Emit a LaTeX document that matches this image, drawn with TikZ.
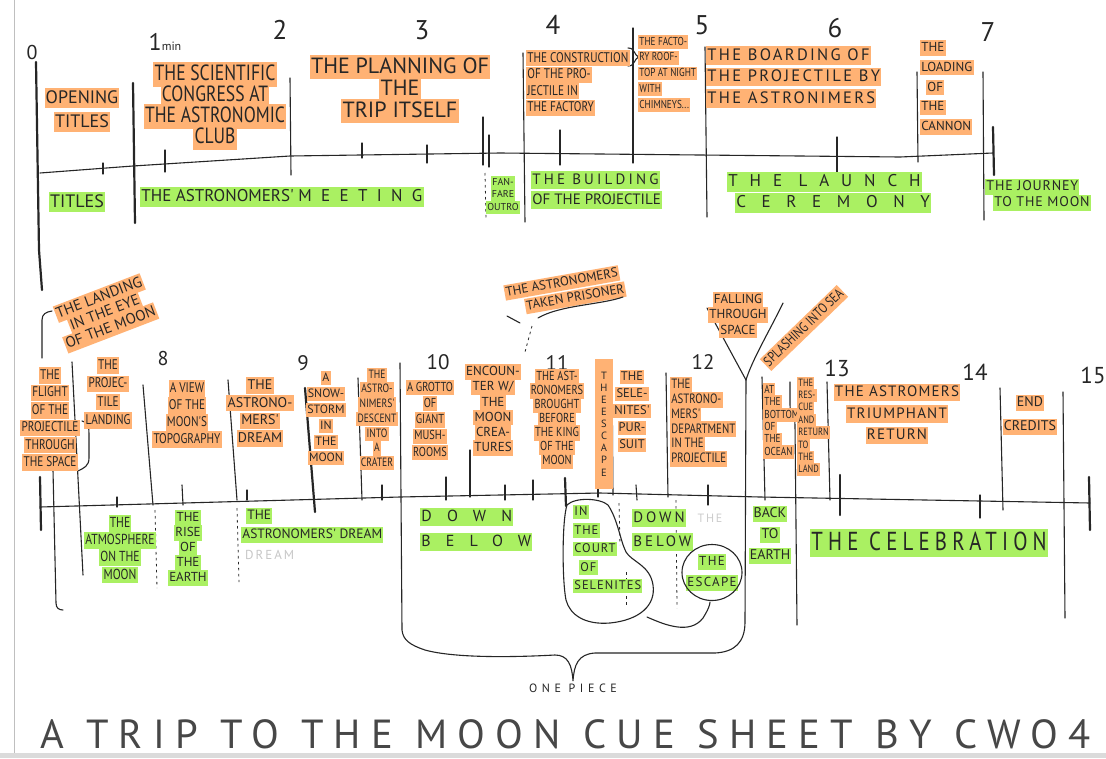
\documentclass[tikz,border=0pt]{standalone}
\usepackage{fontspec}
\setmainfont{PT Sans}
\newfontfamily\hand[FakeStretch=0.8]{PT Sans}
\newfontfamily\handw{PT Sans}
\usetikzlibrary{positioning}
\definecolor{hlorange}{RGB}{255,178,116}
\definecolor{hlgreen}{RGB}{170,240,98}
\definecolor{ink}{RGB}{38,38,38}
\setlength\fboxsep{1.2pt}
\newcommand\hlstrut{\rule[-0.22em]{0pt}{1.0em}}
\newcommand\hlo[1]{\colorbox{hlorange}{\hlstrut#1}}
\newcommand\hlg[1]{\colorbox{hlgreen}{\hlstrut#1}}
\newcommand\hf[2]{\hand\fontsize{#1}{#2}\selectfont\lineskiplimit=-100pt\relax}
\newcommand\wf[2]{\handw\fontsize{#1}{#2}\selectfont\lineskiplimit=-100pt\relax}
\newcommand\ls[1]{\addfontfeature{LetterSpace=#1}}
\tikzset{
    pen/.style={draw=ink, line width=1.1pt, line cap=round},
    heavy/.style={pen, line width=2.2pt},
    guide/.style={draw=ink, line width=0.8pt, dash pattern=on 2.5pt off 3.5pt},
    scene/.style={inner sep=0pt, align=center, text=ink},
    cue/.style={inner sep=0pt, align=center, text=ink},
    minute/.style={inner sep=0pt, text=ink, font=\wf{27}{27}},
}
\begin{document}
\begin{tikzpicture}[x=1pt, y=-1pt]
      \useasboundingbox (0,0) rectangle (1106,758);
      \fill[white] (0,0) rectangle (1106,758);
      \fill[black!14] (0,753) rectangle (1106,758);
      \draw[black!25, line width=0.6pt] (14,0) -- (14,753);

      % minutes
      \node[minute, font=\wf{20}{20}] (m0) at (32,52) {0};
      \node[minute, font=\wf{24}{24}] (m1) at (165,42) {1{\wf{12}{12}min}};
      \node[minute] (m2)  at (280,30)  {2};
      \node[minute] (m3)  at (422,30)  {3};
      \node[minute] (m4)  at (553,25)  {4};
      \node[minute] (m5)  at (702,25)  {5};
      \node[minute] (m6)  at (835,28)  {6};
      \node[minute] (m7)  at (988,32)  {7};
      \node[minute, font=\wf{20}{20}] (m8)  at (163,358) {8};
      \node[minute, font=\wf{21}{21}] (m9)  at (303,363) {9};
      \node[minute, font=\wf{21}{21}] (m10) at (438,362) {10};
      \node[minute, font=\wf{21}{21}] (m11) at (557,363) {11};
      \node[minute, font=\wf{21}{21}] (m12) at (703,362) {12};
      \node[minute, font=\wf{23}{23}] (m13) at (837,368) {13};
      \node[minute, font=\wf{23}{23}] (m14) at (975,372) {14};
      \node[minute, font=\wf{23}{23}] (m15) at (1093,375) {15};

      % upper timeline
      \draw[pen] (40,173) -- (133,166) -- (290,156) -- (500,153) -- (700,155) -- (900,157) -- (993,153);
      \draw[heavy] (36,62) -- (39,250) -- (42,290);
      \draw[heavy] (133,83) -- (135,223);
      \draw[pen] (103,163) -- (103,174);
      \draw[pen] (165,150) -- (165,172);
      \draw[pen] (290,78) -- (291,175);
      \draw[pen] (362,143) -- (362,158);
      \draw[pen] (427,145) -- (427,163);
      \draw[pen] (483,117) -- (483,165);
      \draw[pen] (489,135) -- (489,167);
      \draw[guide] (485,173) -- (486,220);
      \draw[pen] (523,53) -- (525,222);
      \draw[pen] (560,130) -- (560,165);
      \draw[pen] (633,28) -- (633,163);
      \draw[pen] (628,48) .. controls (636,48) and (633,56) .. (640,57) .. controls (633,58) and (636,66) .. (628,66);
      \draw[pen] (705,47) -- (707,217);
      \draw[pen] (837,137) -- (837,172);
      \draw[pen] (917,72) -- (918,162);
      \draw[pen] (983,72) -- (984,220);
      \draw[heavy] (993,127) -- (994,175);

      % upper scenes
      \node[scene, font=\wf{18}{24}] (opening) at (82,110) {\hlo{OPENING}\\\hlo{TITLES}};
      \node[scene, font=\hf{22}{21}] (congress) at (215,106)
            {\hlo{THE SCIENTIFIC}\\\hlo{CONGRESS AT}\\\hlo{THE ASTRONOMIC}\\\hlo{CLUB}};
      \node[scene, font=\wf{22}{22}] (planning) at (400,89)
            {\hlo{THE PLANNING OF}\\\hlo{THE}\\\hlo{TRIP ITSELF}};
      \node[scene, anchor=west, align=left, font=\hf{14}{16.5}] (construction) at (526,83)
            {\hlo{THE CONSTRUCTION}\\\hlo{OF THE PRO-}\\\hlo{JECTILE IN}\\\hlo{THE FACTORY}};
      \node[scene, anchor=west, align=left, font=\hf{11.5}{15.75}] (rooftop) at (638,73.5)
            {\hlo{THE FACTO-}\\\hlo{RY ROOF-}\\\hlo{TOP AT NIGHT}\\\hlo{WITH}\\\hlo{CHIMNEYS...}};
      \node[scene, anchor=west, align=left, font=\wf{16.5}{21.5}\ls{14}] (boarding) at (706,77)
            {\hlo{THE BOARDING OF}\\\hlo{THE PROJECTILE BY}\\\hlo{THE ASTRONIMERS}};
      \node[scene, anchor=west, align=left, font=\wf{13}{19.75}] (loading) at (920,87.5)
            {\hlo{THE}\\\hlo{LOADING}\\\hspace*{6pt}\hlo{OF}\\\hlo{THE}\\\hlo{CANNON}};

      % upper cues
      \node[cue, font=\wf{18}{18}] (gtitles) at (77,202) {\hlg{TITLES}};
      \node[cue, anchor=west, font=\wf{17}{17}] (meeting) at (140,197)
            {\hlg{THE ASTRONOMERS' {\ls{55}MEETING}}};
      \node[cue, font=\wf{10}{12.5}] (fanfare) at (503,195) {\hlg{FAN-}\\\hlg{FARE}\\\hlg{OUTRO}};
      \node[cue, anchor=west, align=left, font=\wf{15}{20}] (building) at (531,190)
            {\hlg{\ls{21}THE BUILDING}\\\hlg{OF THE PROJECTILE}};
      \node[cue, anchor=west, align=left, font=\wf{17}{21}] (launch) at (727,192.5)
            {\hlg{\ls{70}THE LAUNCH}\\\hspace*{8pt}\hlg{\ls{92}CEREMONY}};
      \node[cue, anchor=west, align=left, font=\wf{14}{16}\ls{6}] (journey) at (985,195)
            {\hlg{THE JOURNEY}\\\hspace*{8pt}\hlg{TO THE MOON}};

      % lower timeline
      \draw[pen] (40,507) -- (400,497) -- (600,493) -- (760,497) -- (1090,503);
      \draw[pen] (42,358) -- (42,320) .. controls (42,314) and (46,312) .. (52,311);
      \draw[heavy] (40,477) -- (41,530);
      \draw[pen] (53,470) -- (56,603) .. controls (56,608) and (59,610) .. (63,610);
      \draw[pen] (72,362) -- (83,575);
      \draw[pen] (82,421) .. controls (89,423) and (89,428) .. (89,435) -- (89,458) .. controls (89,466) and (84,468) .. (78,471);
      \draw[pen] (117,497) -- (117,507);
      \draw[pen] (143,385) -- (153,505);
      \draw[pen] (182,485) -- (183,505);
      \draw[pen] (228,380) -- (237,500);
      \draw[pen] (247,490) -- (247,500);
      \draw[heavy] (305,388) -- (315,512);
      \draw[pen] (358,378) -- (362,500);
      \draw[pen] (382,485) -- (382,500);
      \draw[pen] (446,477) -- (446,500);
      \draw[pen] (470,450) -- (470,497);
      \draw[pen] (505,485) -- (505,500);
      \draw[pen] (533,480) -- (533,500);
      \draw[heavy] (565,478) -- (566,506);
      \draw[pen] (598,365) -- (598,497);
      \draw[pen] (612,370) -- (613,495);
      \draw[pen] (636,485) -- (637,500);
      \draw[pen] (666,373) -- (668,497);
      \draw[pen] (708,485) -- (708,505);
      \draw[pen] (762,377) -- (765,500);
      \draw[pen] (790,382) -- (790,405) .. controls (790,415) and (795,415) .. (795,425) -- (797,625);
      \draw[pen] (827,382) -- (830,500);
      \draw[heavy] (840,475) -- (840,515);
      \draw[pen] (980,495) -- (980,518);
      \draw[pen] (1000,388) -- (1003,510);
      \draw[pen] (1063,392) -- (1065,618);
      \draw[heavy] (1089,477) -- (1090,530);
      \draw[guide] (155,510) -- (157,588);
      \draw[guide] (237,508) -- (239,582);
      \draw[guide] (619,503) -- (620,545);
      \draw[guide] (626,572) -- (626,607);
      \draw[guide] (676,500) -- (677,608);

      % one piece brace
      \coordinate (tip) at (573,681);
      \draw[pen] (400,363) -- (402,630) .. controls (403,640) and (410,645) .. (425,650)
            .. controls (450,657) and (500,658) .. (555,655) .. controls (568,655) and (572,665) .. (tip)
            .. controls (574,665) and (578,654) .. (595,653) -- (715,653)
            .. controls (735,652) and (745,642) .. (745,622) -- (746,380);
      \node[below=3pt of tip, inner sep=0pt, text=ink, font=\wf{12}{12}\ls{38}] (onepiece) {ONE PIECE};

      % falling through space
      \coordinate (fork) at (746,380);
      \draw[pen] (707,308) -- (fork);
      \draw[pen] (783,303) .. controls (770,330) and (752,360) .. (fork);

      % lower scenes
      \node[scene, rotate=21, font=\wf{15}{16}] (eyemoon) at (105,313)
            {\hlo{THE LANDING}\\\hlo{IN THE EYE}\\\hlo{OF THE MOON}};
      \node[scene, font=\hf{14}{17.4}] (flight) at (50,419)
            {\hlo{THE}\\\hlo{FLIGHT}\\\hlo{OF THE}\\\hlo{PROJECTILE}\\\hlo{THROUGH}\\\hlo{THE SPACE}};
      \node[scene, font=\hf{14}{18.3}] (landing) at (108,393)
            {\hlo{THE}\\\hlo{PROJEC-}\\\hlo{TILE}\\\hlo{LANDING}};
      \node[scene, font=\hf{14}{17}] (view) at (187,414)
            {\hlo{A VIEW}\\\hlo{OF THE}\\\hlo{MOON'S}\\\hlo{TOPOGRAPHY}};
      \node[scene, font=\wf{14}{17.7}] (dream) at (260,412)
            {\hlo{THE}\\\hlo{ASTRONO-}\\\hlo{MERS'}\\\hlo{DREAM}};
      \node[scene, font=\wf{12}{16}] (snow) at (326,418)
            {\hlo{A}\\\hlo{SNOW-}\\\hlo{STORM}\\\hlo{IN}\\\hlo{THE}\\\hlo{MOON}};
      \node[scene, font=\hf{12}{14.7}] (crater) at (377,419)
            {\hlo{THE}\\\hlo{ASTRO-}\\\hlo{NIMERS'}\\\hlo{DESCENT}\\\hlo{INTO}\\\hlo{A}\\\hlo{CRATER}};
      \node[scene, font=\hf{13}{16.25}] (grotto) at (430,420)
            {\hlo{A GROTTO}\\\hlo{OF}\\\hlo{GIANT}\\\hlo{MUSH-}\\\hlo{ROOMS}};
      \node[scene, font=\wf{13}{15.2}] (encounter) at (493,410)
            {\hlo{ENCOUN-}\\\hlo{TER W/}\\\hlo{THE}\\\hlo{MOON}\\\hlo{CREA-}\\\hlo{TURES}};
      \node[scene, font=\hf{13}{14}] (king) at (557,419)
            {\hlo{THE AST-}\\\hlo{RONOMERS}\\\hlo{BROUGHT}\\\hlo{BEFORE}\\\hlo{THE KING}\\\hlo{OF THE}\\\hlo{MOON}};
      \node[scene, fill=hlorange, minimum width=18pt, inner ysep=13pt, font=\wf{10.5}{12.1}] (escape) at (604,424)
            {T\\H\\E\\E\\S\\C\\A\\P\\E};
      \node[scene, font=\wf{12.5}{17}] (pursuit) at (632,411)
            {\hlo{THE}\\\hlo{SELE-}\\\hlo{NITES'}\\\hlo{PUR-}\\\hlo{SUIT}};
      \node[scene, anchor=west, align=left, font=\hf{13.5}{14.8}] (department) at (670,422)
            {\hlo{THE}\\\hlo{ASTRONO-}\\\hlo{MERS'}\\\hlo{DEPARTMENT}\\\hlo{IN THE}\\\hlo{PROJECTILE}};
      \node[scene, rotate=10, align=left, font=\wf{13}{17}] (prisoner) at (565,291)
            {\hlo{THE ASTRONOMERS}\\\hspace*{18pt}\hlo{TAKEN PRISONER}};
      \draw[pen] (507,316) -- (520,323);
      \draw[pen] (538,318) .. controls (560,305) and (600,305) .. (623,297);
      \draw[guide] (532,326) -- (525,352);
      \node[scene, font=\wf{13}{15.5}] (falling) at (738,315)
            {\hlo{FALLING}\\\hlo{THROUGH}\\\hlo{SPACE}};
      \node[scene, rotate=44, font=\hf{14}{14}] (splash) at (804,328) {\hlo{SPLASHING INTO SEA}};
      \node[scene, anchor=west, align=left, font=\hf{11.5}{12.4}] (ocean) at (763,421)
            {\hlo{AT}\\\hlo{THE}\\\hlo{BOTTOM}\\\hlo{OF}\\\hlo{THE}\\\hlo{OCEAN}};
      \node[scene, anchor=west, align=left, font=\hf{10.5}{12.4}] (rescue) at (797,426.5)
            {\hlo{THE}\\\hlo{RES-}\\\hlo{CUE}\\\hlo{AND}\\\hlo{RETURN}\\\hlo{TO}\\\hlo{THE}\\\hlo{LAND}};
      \node[scene, font=\wf{15}{21.5}\ls{8}] (triumph) at (897,414)
            {\hlo{THE ASTROMERS}\\\hlo{TRIUMPHANT}\\\hlo{RETURN}};
      \node[scene, font=\wf{14}{24}] (credits) at (1030,415) {\hlo{END}\\\hlo{CREDITS}};

      % lower cues
      \node[cue, font=\hf{14.5}{17.3}] (atmos) at (120,549)
            {\hlg{THE}\\\hlg{ATMOSPHERE}\\\hlg{ON THE}\\\hlg{MOON}};
      \node[cue, font=\wf{13}{15}] (rise) at (188,548)
            {\hlg{THE}\\\hlg{RISE}\\\hlg{OF}\\\hlg{THE}\\\hlg{EARTH}};
      \node[cue, anchor=west, align=left, font=\wf{13.5}{19}] (gdream) at (241,525.5)
            {\hspace*{5pt}\hlg{THE}\\\hlg{ASTRONOMERS' DREAM}};
      \node[cue, anchor=west, text=black!22, font=\wf{13}{13}\ls{15}] (ghostdream) at (245,555) {DREAM};
      \node[cue, anchor=west, align=left, font=\wf{16}{25}\ls{95}] (below) at (420,529.5)
            {\hlg{DOWN}\\\hlg{BELOW}};
      \node[cue, anchor=west, align=left, font=\wf{12.5}{18.5}\ls{8}] (court) at (573,549)
            {\hlg{IN}\\\hlg{THE}\\\hlg{COURT}\\\hspace*{6pt}\hlg{OF}\\\hlg{SELENITES}};
      \node[cue, anchor=west, align=left, font=\wf{15}{24}\ls{20}] (below2) at (632,530)
            {\hlg{DOWN}\\\hlg{BELOW}};
      \node[cue, text=black!20, font=\wf{12}{12}\ls{15}] (ghostthe) at (710,518) {THE};
      \node[cue, font=\wf{13}{21}\ls{10}] (gescape) at (712,572.5) {\hlg{THE}\\\hlg{ESCAPE}};
      \node[cue, font=\wf{14}{21}] (backearth) at (770,535) {\hlg{BACK}\\\hlg{TO}\\\hlg{EARTH}};
      \node[cue, anchor=west, font=\hf{26}{26}\ls{20}] (celebration) at (810,543) {\hlg{THE CELEBRATION}};

      % rings round the court and the escape
      \draw[pen] (567,505) .. controls (575,497) and (600,498) .. (608,505)
            .. controls (618,520) and (620,540) .. (626,552) .. controls (632,562) and (650,565) .. (653,585)
            .. controls (656,605) and (640,620) .. (610,623) .. controls (585,625) and (570,615) .. (566,600)
            .. controls (562,580) and (562,520) .. (567,505);
      \draw[pen] (gescape.center) ellipse [x radius=30, y radius=28];
      \draw[pen] (647,617) .. controls (665,625) and (690,635) .. (703,618) .. controls (708,610) and (710,605) .. (710,602);

      % title
      \node[anchor=base west, inner sep=0pt, text=ink!85] (title) at (40,748)
            {\resizebox{1050pt}{!}{\wf{40}{40}\ls{25}A\hspace{22pt}TRIP\hspace{22pt}TO\hspace{22pt}THE\hspace{22pt}MOON\hspace{22pt}CUE\hspace{22pt}SHEET\hspace{22pt}BY\hspace{22pt}CWO4}};
\end{tikzpicture}
\end{document}
